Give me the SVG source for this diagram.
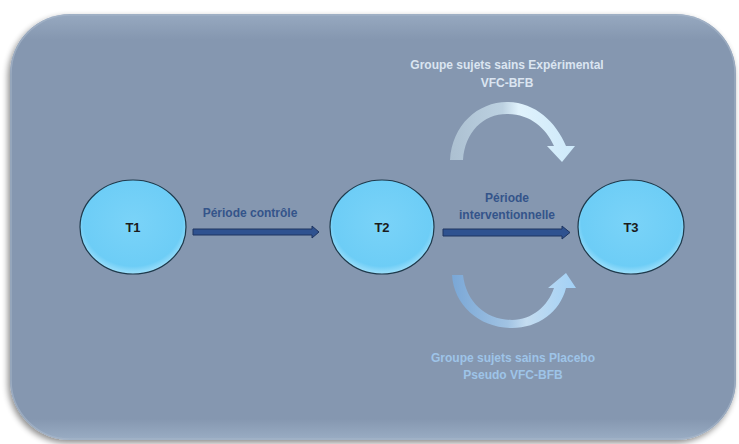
<svg xmlns="http://www.w3.org/2000/svg" width="739" height="444" viewBox="0 0 739 444">
<defs>
<filter id="shadow" x="-5%" y="-5%" width="110%" height="112%">
<feGaussianBlur in="SourceAlpha" stdDeviation="3"/>
<feOffset dx="-2" dy="3" result="b"/>
<feComponentTransfer><feFuncA type="linear" slope="0.45"/></feComponentTransfer>
<feMerge><feMergeNode/><feMergeNode in="SourceGraphic"/></feMerge>
</filter>
<linearGradient id="bg" x1="0" y1="0" x2="0" y2="1">
<stop offset="0" stop-color="#97a9c0"/>
<stop offset="0.06" stop-color="#8597b0"/>
<stop offset="0.95" stop-color="#8597b0"/>
<stop offset="1" stop-color="#9aadc4"/>
</linearGradient>
<radialGradient id="node" cx="0.5" cy="0.45" r="0.55">
<stop offset="0" stop-color="#7ad3f8"/>
<stop offset="0.85" stop-color="#6dcdf6"/>
<stop offset="1" stop-color="#9fe0fb"/>
</radialGradient>
<linearGradient id="gtop" gradientUnits="userSpaceOnUse" x1="450" y1="0" x2="575" y2="0">
<stop offset="0" stop-color="#acc0d1"/>
<stop offset="0.42" stop-color="#bcd1e1"/>
<stop offset="0.55" stop-color="#e0f2fc"/>
<stop offset="1" stop-color="#cde9fa"/>
</linearGradient>
<linearGradient id="gbot" gradientUnits="userSpaceOnUse" x1="452" y1="0" x2="576" y2="0">
<stop offset="0" stop-color="#7aa7d6"/>
<stop offset="0.45" stop-color="#a1c3e3"/>
<stop offset="0.6" stop-color="#c4dcf0"/>
<stop offset="1" stop-color="#a2d1f6"/>
</linearGradient>
<style>
.node ellipse{fill:url(#node);stroke:#1e3a4c;stroke-width:1.2}
.node text{font-family:"Liberation Sans",Arial,sans-serif;font-weight:bold;font-size:13px;fill:#1b1b1b;text-anchor:middle}
.lbl{font-family:"Liberation Sans",Arial,sans-serif;font-weight:bold;font-size:12px;text-anchor:middle}
.dark{fill:#34548a}
.light{fill:#dbe5f1}
.pale{fill:#9ec4e8}
.arr{fill:#2f5290;stroke:#1f3560;stroke-width:1}
</style>
</defs>
<rect x="10" y="14" width="726" height="426" rx="60" ry="60" fill="url(#bg)" filter="url(#shadow)"/>
<rect x="11" y="15" width="724" height="424" rx="59" ry="59" fill="none" stroke="#aab9cc" stroke-width="1.5" opacity="0.6"/>

<g id="connectors">
<path class="arr" d="M193 229 L312 229 L312 226 L319 232 L312 238 L312 235 L193 235 Z"/>
<path class="arr" d="M443 229 L562 229 L562 226 L570 232.5 L562 239 L562 236 L443 236 Z"/>
<path fill="url(#gtop)" d="M450 160 C452 125 478 102 507 102 C535 102 556 122 566 146 L575 146 L562 162 L547 146 L554 146 C546 128 530 114 507 114 C483 114 465 132 463 160 Z"/>
<path fill="url(#gbot)" d="M452 275 C454 306 480 328 512 328 C538 328 560 312 566 288 L576 288 L566 273 L548 288 L554 288 C548 306 532 320 512 320 C486 320 466 302 463 275 Z"/>
</g>

<g id="T1" class="node"><ellipse cx="133" cy="227" rx="53" ry="47"/><text x="133" y="232">T1</text></g>
<g id="T2" class="node"><ellipse cx="382" cy="227" rx="52" ry="47"/><text x="382" y="232">T2</text></g>
<g id="T3" class="node"><ellipse cx="631" cy="227" rx="53" ry="47"/><text x="631" y="232">T3</text></g>

<g id="labels">
<text class="lbl dark" x="250" y="217">Période contrôle</text>
<text class="lbl dark" x="507" y="202">Période</text>
<text class="lbl dark" x="507" y="219">interventionnelle</text>
<text class="lbl light" x="507" y="69">Groupe sujets sains Expérimental</text>
<text class="lbl light" x="507" y="87">VFC-BFB</text>
<text class="lbl pale" x="513" y="362">Groupe sujets sains Placebo</text>
<text class="lbl pale" x="513" y="379">Pseudo VFC-BFB</text>
</g>
</svg>
